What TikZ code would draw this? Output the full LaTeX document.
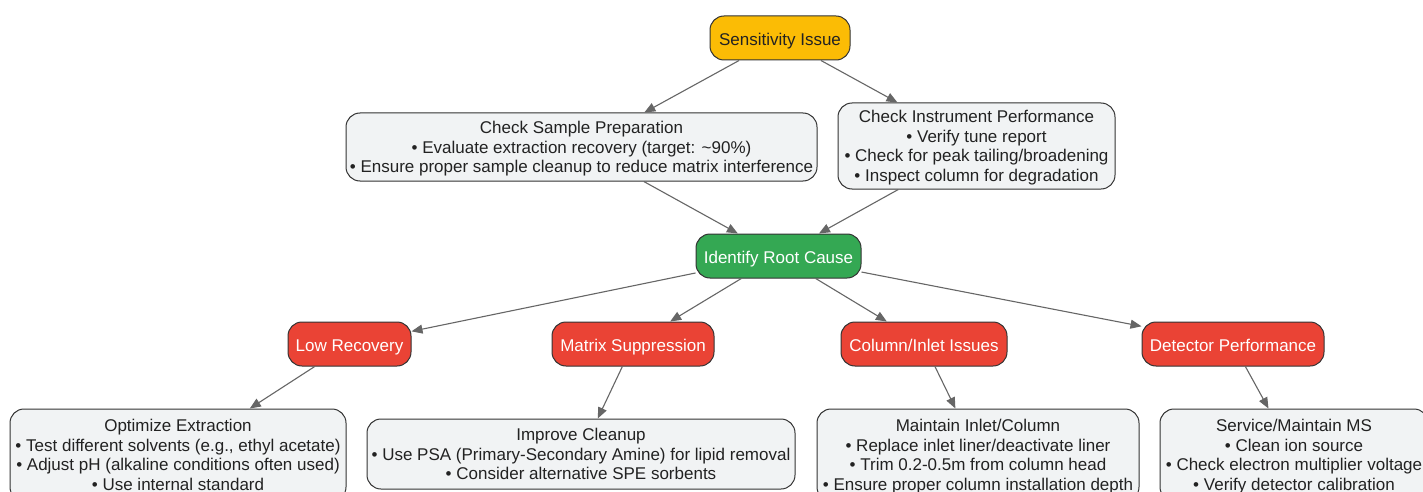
\documentclass[tikz,border=0pt]{standalone}
\usepackage{fontspec}
\setmainfont{Liberation Sans}
\usetikzlibrary{arrows.meta}
\definecolor{cyellow}{HTML}{FBBC05}
\definecolor{cgreen}{HTML}{34A853}
\definecolor{cred}{HTML}{EA4335}
\definecolor{cgray}{HTML}{F1F3F4}
\definecolor{cborder}{HTML}{333333}
\definecolor{cline}{HTML}{666666}
\definecolor{ctext}{HTML}{222222}
\tikzset{
  box/.style={draw=cborder, line width=1pt, rounded corners=14pt, inner sep=0pt,
    align=center, font=\fontsize{17}{19.6}\selectfont, text=ctext, text depth=0pt},
  onebox/.style={box, text height=14.5pt, minimum height=44pt},
  startbox/.style={onebox, fill=cyellow},
  rootbox/.style={onebox, fill=cgreen, text=white},
  causebox/.style={onebox, fill=cred, text=white},
  infobox/.style={box, fill=cgray},
  conn/.style={draw=cline, line width=1.1pt, -{Triangle[length=11pt,width=9pt,fill=cline]}}
}
\begin{document}
\begin{tikzpicture}[x=1pt,y=-1pt]
\useasboundingbox (0,0) rectangle (1423,492);
\clip (0,0) rectangle (1423,492);
\fill[white] (0,0) rectangle (1423,492);

\node[startbox, minimum width=140pt] (s) at (780,38) {Sensitivity Issue};
\node[infobox, minimum width=471pt, minimum height=68pt] (csp) at (581.5,147) {Check Sample Preparation\\ • Evaluate extraction recovery (target: \textasciitilde90\%)\\ • Ensure proper sample cleanup to reduce matrix interference};
\node[infobox, minimum width=277pt, minimum height=86pt] (cip) at (976.5,146) {Check Instrument Performance\\ • Verify tune report\\ • Check for peak tailing/broadening\\ • Inspect column for degradation};
\node[rootbox, minimum width=165pt] (root) at (778.5,256) {Identify Root Cause};
\node[causebox, minimum width=123pt] (lr) at (349.5,344) {Low Recovery};
\node[causebox, minimum width=162pt] (ms) at (633,344) {Matrix Suppression};
\node[causebox, minimum width=166pt] (ci) at (924,344) {Column/Inlet Issues};
\node[causebox, minimum width=182pt] (dp) at (1233,344) {Detector Performance};
\node[infobox, minimum width=336pt, minimum height=92pt] (oe) at (178,455) {Optimize Extraction\\ • Test different solvents (e.g., ethyl acetate)\\ • Adjust pH (alkaline conditions often used)\\ • Use internal standard};
\node[infobox, minimum width=428pt, minimum height=70pt] (ic) at (581,454) {Improve Cleanup\\ • Use PSA (Primary-Secondary Amine) for lipid removal\\ • Consider alternative SPE sorbents};
\node[infobox, minimum width=322pt, minimum height=92pt] (mic) at (978,455) {Maintain Inlet/Column\\ • Replace inlet liner/deactivate liner\\ • Trim 0.2-0.5m from column head\\ • Ensure proper column installation depth};
\node[infobox, minimum width=268pt, minimum height=92pt] (sms) at (1294,455) {Service/Maintain MS\\ • Clean ion source\\ • Check electron multiplier voltage\\ • Verify detector calibration};

\draw[conn] (s) -- (csp);
\draw[conn] (s) -- (cip);
\draw[conn] (csp) -- (root);
\draw[conn] (cip) -- (root);
\draw[conn] (root) -- (lr);
\draw[conn] (root) -- (ms);
\draw[conn] (root) -- (ci);
\draw[conn] (root) -- (dp);
\draw[conn] (lr) -- (oe);
\draw[conn] (ms) -- (ic);
\draw[conn] (ci) -- (mic);
\draw[conn] (dp) -- (sms);
\end{tikzpicture}
\end{document}
